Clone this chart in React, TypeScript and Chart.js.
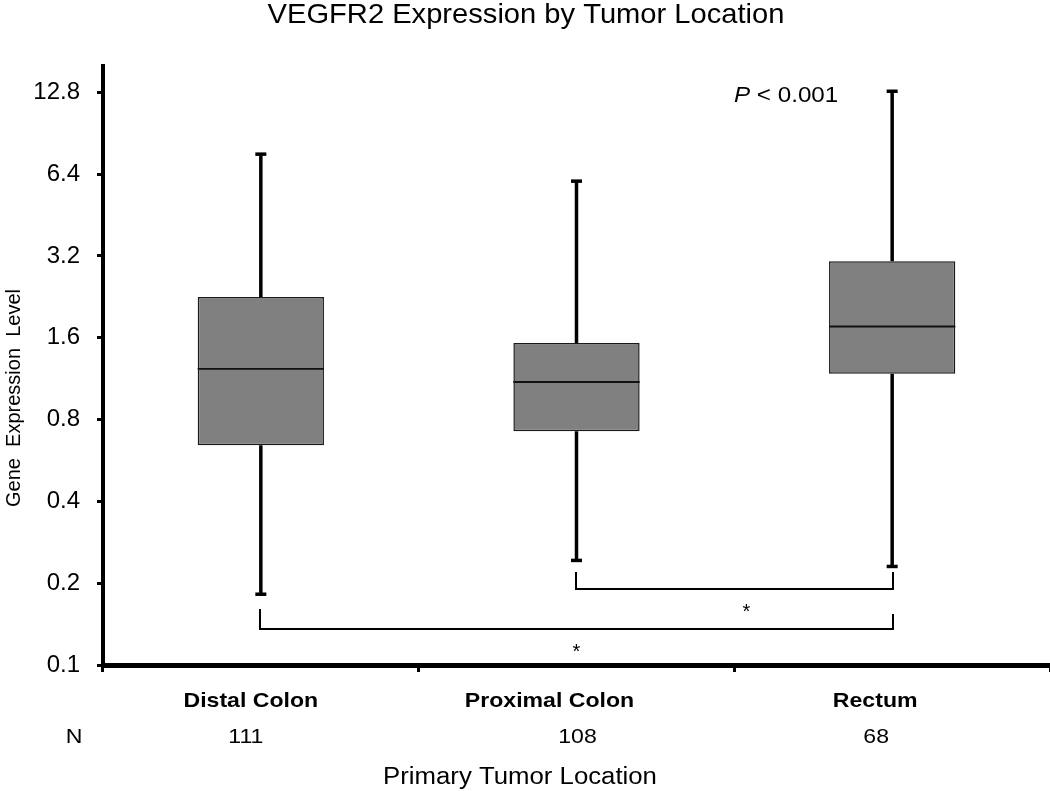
import React, { useEffect, useRef } from "react";
import { Chart, registerables } from "chart.js";

Chart.register(...registerables);

// ---------- data ----------
const categories = ["Distal Colon", "Proximal Colon", "Rectum"];
const sampleSizes = [111, 108, 68];
const whiskerMin = [0.181, 0.241, 0.229];
const quartile1 = [0.644, 0.725, 1.18];
const medians = [1.23, 1.1, 1.76];
const quartile3 = [2.26, 1.53, 3.06];
const whiskerMax = [7.63, 6.07, 13.0];
const yTicks = [0.1, 0.2, 0.4, 0.8, 1.6, 3.2, 6.4, 12.8];
const comparisonFrom = [1, 0];
const comparisonTo = [2, 2];
const comparisonMark = ["*", "*"];
const titleText = "VEGFR2 Expression by Tumor Location";
const yTitleText = "Gene  Expression  Level";
const xTitleText = "Primary Tumor Location";
const nLabel = "N";
const pPrefix = "P";
const pText = " < 0.001";

// ---------- layout / style constants ----------
const FONT = "'Liberation Sans', Arial, Helvetica, sans-serif";
const SX = 1.1; // horizontal stretch of the original figure text
const CAT_LABEL_SHIFT = [-10, -27, -17];
const N_LABEL_SHIFT = [-15, 1, -16];
const BRACKET_ROWS = [76, 36]; // distance above x axis
const BRACKET_LEFT_H = [17, 20];
const BRACKET_RIGHT_H = [17, 15];
const MARK_SHIFT = [12, 0];

function drawText(
  ctx: CanvasRenderingContext2D,
  s: string,
  x: number,
  y: number,
  font: string,
  align: CanvasTextAlign = "center",
  baseline: CanvasTextBaseline = "alphabetic",
  sx: number = SX
) {
  ctx.save();
  ctx.font = font;
  ctx.fillStyle = "#000";
  ctx.textAlign = align;
  ctx.textBaseline = baseline;
  ctx.translate(x, y);
  ctx.scale(sx, 1);
  ctx.fillText(s, 0, 0);
  ctx.restore();
}

const boxPlotPlugin = {
  id: "boxPlotExtras",
  beforeDatasetsDraw(chart: any) {
    const ctx: CanvasRenderingContext2D = chart.ctx;
    const xs = chart.scales.x;
    const ys = chart.scales.y;
    ctx.save();
    ctx.strokeStyle = "#000";
    ctx.fillStyle = "#000";
    ctx.lineWidth = 3.5;
    categories.forEach((_, i) => {
      const cx = xs.getPixelForValue(i);
      const yMax = ys.getPixelForValue(whiskerMax[i]);
      const yMin = ys.getPixelForValue(whiskerMin[i]);
      const yQ1 = ys.getPixelForValue(quartile1[i]);
      const yQ3 = ys.getPixelForValue(quartile3[i]);
      ctx.beginPath();
      ctx.moveTo(cx, yQ3);
      ctx.lineTo(cx, yMax);
      ctx.moveTo(cx, yQ1);
      ctx.lineTo(cx, yMin);
      ctx.stroke();
      ctx.fillRect(cx - 5.5, yMax - 1, 11, 3.5);
      ctx.fillRect(cx - 5.5, yMin - 2.5, 11, 3.5);
    });
    ctx.restore();
  },
  afterDatasetsDraw(chart: any) {
    const ctx: CanvasRenderingContext2D = chart.ctx;
    const ys = chart.scales.y;
    const meta = chart.getDatasetMeta(0);
    ctx.save();
    ctx.strokeStyle = "#111";
    ctx.lineWidth = 1.8;
    meta.data.forEach((el: any, i: number) => {
      const y = ys.getPixelForValue(medians[i]);
      ctx.beginPath();
      ctx.moveTo(el.x - el.width / 2, y);
      ctx.lineTo(el.x + el.width / 2, y);
      ctx.stroke();
    });
    ctx.restore();
  },
  afterDraw(chart: any) {
    const ctx: CanvasRenderingContext2D = chart.ctx;
    const xs = chart.scales.x;
    const ys = chart.scales.y;
    const area = chart.chartArea;

    // significance brackets
    ctx.save();
    ctx.strokeStyle = "#000";
    ctx.lineWidth = 2;
    comparisonFrom.forEach((from, k) => {
      const to = comparisonTo[k];
      const x1 = Math.round(xs.getPixelForValue(from)) - 1;
      const x2 = Math.round(xs.getPixelForValue(to)) + 1;
      const yb = area.bottom - BRACKET_ROWS[k];
      ctx.beginPath();
      ctx.moveTo(x1, yb - BRACKET_LEFT_H[k]);
      ctx.lineTo(x1, yb);
      ctx.lineTo(x2, yb);
      ctx.lineTo(x2, yb - BRACKET_RIGHT_H[k]);
      ctx.stroke();
      drawText(ctx, comparisonMark[k], (x1 + x2) / 2 + MARK_SHIFT[k], yb + 29, `20px ${FONT}`, "center", "alphabetic", 1);
    });
    ctx.restore();

    // P value
    const pY = ys.getPixelForValue(12.8) + 10;
    ctx.save();
    ctx.font = `italic 22px ${FONT}`;
    const pW = ctx.measureText(pPrefix).width * SX;
    ctx.restore();
    const pX = 734;
    drawText(ctx, pPrefix, pX, pY, `italic 22px ${FONT}`, "left");
    drawText(ctx, pText, pX + pW, pY, `22px ${FONT}`, "left");

    // title
    drawText(ctx, titleText, 526, 23, `28px ${FONT}`, "center", "alphabetic", 1.04);

    // y-axis title
    ctx.save();
    ctx.translate(20, 398);
    ctx.rotate(-Math.PI / 2);
    ctx.font = `20px ${FONT}`;
    ctx.fillStyle = "#000";
    ctx.textAlign = "center";
    ctx.textBaseline = "alphabetic";
    ctx.fillText(yTitleText, 0, 0);
    ctx.restore();

    // category labels and N row
    categories.forEach((c, i) => {
      const cx = xs.getPixelForValue(i);
      drawText(ctx, c, cx + CAT_LABEL_SHIFT[i], area.bottom + 42, `bold 21px ${FONT}`);
      drawText(ctx, String(sampleSizes[i]), cx + N_LABEL_SHIFT[i], area.bottom + 78, `21px ${FONT}`);
    });
    drawText(ctx, nLabel, 74, area.bottom + 78, `21px ${FONT}`);

    // x-axis title
    drawText(ctx, xTitleText, 520, area.bottom + 119, `23px ${FONT}`, "center", "alphabetic", 1.12);
  },
};

export default function App() {
  const canvasRef = useRef<HTMLCanvasElement | null>(null);

  useEffect(() => {
    const canvas = canvasRef.current;
    if (!canvas) return;
    const chart = new Chart(canvas, {
      type: "bar",
      data: {
        labels: categories,
        datasets: [
          {
            label: "IQR",
            data: categories.map((_, i) => [quartile1[i], quartile3[i]]) as any,
            backgroundColor: "#808080",
            borderColor: "#1a1a1a",
            borderWidth: 1.5,
            borderSkipped: false,
            barPercentage: 0.4,
            categoryPercentage: 1,
          },
        ],
      },
      options: {
        responsive: false,
        animation: false,
        devicePixelRatio: 1,
        layout: { padding: { top: 66, right: 0, bottom: 0, left: 0 } },
        plugins: {
          legend: { display: false },
          tooltip: { enabled: false },
          title: { display: false },
        },
        scales: {
          x: {
            type: "category",
            offset: true,
            grid: {
              offset: true,
              display: true,
              drawOnChartArea: false,
              drawTicks: true,
              tickLength: 7,
              color: "#000",
              lineWidth: 3,
            },
            border: { display: true, color: "#000", width: 5 },
            ticks: { display: false },
            afterFit: (scale: any) => {
              scale.height = 126;
            },
          },
          y: {
            type: "logarithmic",
            min: 0.1,
            max: 16,
            afterBuildTicks: (scale: any) => {
              scale.ticks = yTicks.map((v) => ({ value: v }));
            },
            afterFit: (scale: any) => {
              scale.width = 103;
            },
            grid: {
              display: true,
              drawOnChartArea: false,
              drawTicks: true,
              tickLength: 6,
              color: "#000",
              lineWidth: 3,
            },
            border: { display: true, color: "#000", width: 4 },
            ticks: {
              autoSkip: false,
              padding: 17,
              color: "#000",
              font: { family: FONT, size: 24 },
              callback: (v: any) => String(v),
            },
          },
        },
      } as any,
      plugins: [boxPlotPlugin],
    });
    return () => chart.destroy();
  }, []);

  return (
    <div style={{ position: "fixed", left: 0, top: 0, width: 1050, height: 791, background: "#fff" }}>
      <canvas ref={canvasRef} width={1050} height={791} style={{ display: "block" }} />
    </div>
  );
}
